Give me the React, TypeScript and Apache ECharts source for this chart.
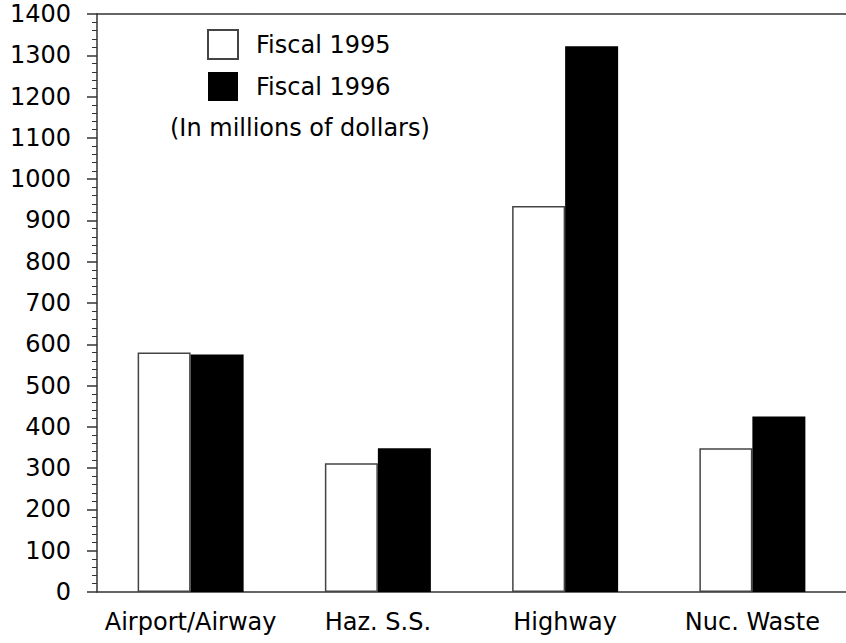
import React, { useEffect, useRef } from "react";
import * as echarts from "echarts";

const categories = ["Airport/Airway", "Haz. S.S.", "Highway", "Nuc. Waste"];
const fiscal1995 = [580, 312, 935, 348];
const fiscal1996 = [575, 348, 1322, 425];
const seriesNames = ["Fiscal 1995", "Fiscal 1996"];
const subtitle = "(In millions of dollars)";

const FONT = "'DejaVu Sans', sans-serif";

export default function App() {
  const ref = useRef<HTMLDivElement>(null);
  useEffect(() => {
    if (!ref.current) return;
    const chart = echarts.init(ref.current, undefined, { renderer: "svg" });
    chart.setOption({
      animation: false,
      backgroundColor: "#ffffff",
      textStyle: { fontFamily: FONT },
      grid: { left: 97, top: 14, right: 0, bottom: 51, containLabel: false },
      legend: {
        orient: "vertical",
        left: 207,
        top: 29,
        padding: 0,
        itemWidth: 30,
        itemHeight: 29,
        itemGap: 12,
        icon: "rect",
        selectedMode: false,
        data: seriesNames,
        textStyle: { fontSize: 24, color: "#000", fontFamily: FONT, padding: [0, 0, 0, 13] },
      },
      graphic: [
        {
          type: "text",
          left: 170,
          top: 116,
          style: { text: subtitle, fontSize: 24, fill: "#000", fontFamily: FONT },
        },
      ],
      xAxis: [
        {
          type: "category",
          data: categories,
          position: "bottom",
          axisLine: { lineStyle: { color: "#333", width: 1.5 } },
          axisTick: { alignWithLabel: true, length: 11, lineStyle: { color: "#333", width: 1.5 } },
          axisLabel: { interval: 0, fontSize: 24, color: "#000", margin: 18, fontFamily: FONT },
        },
        {
          type: "category",
          data: categories,
          position: "top",
          axisLine: { lineStyle: { color: "#333", width: 1.5 } },
          axisTick: { show: false },
          axisLabel: { show: false },
        },
      ],
      yAxis: {
        type: "value",
        min: 0,
        max: 1400,
        interval: 100,
        axisLine: { show: true, lineStyle: { color: "#333", width: 1.5 } },
        axisTick: { show: true, length: 10, lineStyle: { color: "#333", width: 1.5 } },
        minorTick: { show: true, splitNumber: 5, length: 5, lineStyle: { color: "#333", width: 1 } },
        splitLine: { show: false },
        axisLabel: {
          fontSize: 24,
          color: "#000",
          margin: 26,
          fontFamily: FONT,
          padding: [6, 0, 0, 0],
          formatter: (v: number) => String(v),
        },
      },
      series: [
        {
          name: seriesNames[0],
          type: "bar",
          data: fiscal1995,
          barWidth: 53,
          barGap: "0%",
          itemStyle: { color: "#ffffff", borderColor: "#444", borderWidth: 1.5 },
        },
        {
          name: seriesNames[1],
          type: "bar",
          data: fiscal1996,
          barWidth: 53,
          barGap: "0%",
          itemStyle: { color: "#000000" },
        },
      ],
    });
    return () => chart.dispose();
  }, []);
  return (
    <div
      ref={ref}
      style={{ position: "fixed", left: 0, top: 0, width: 846, height: 643 }}
    />
  );
}
